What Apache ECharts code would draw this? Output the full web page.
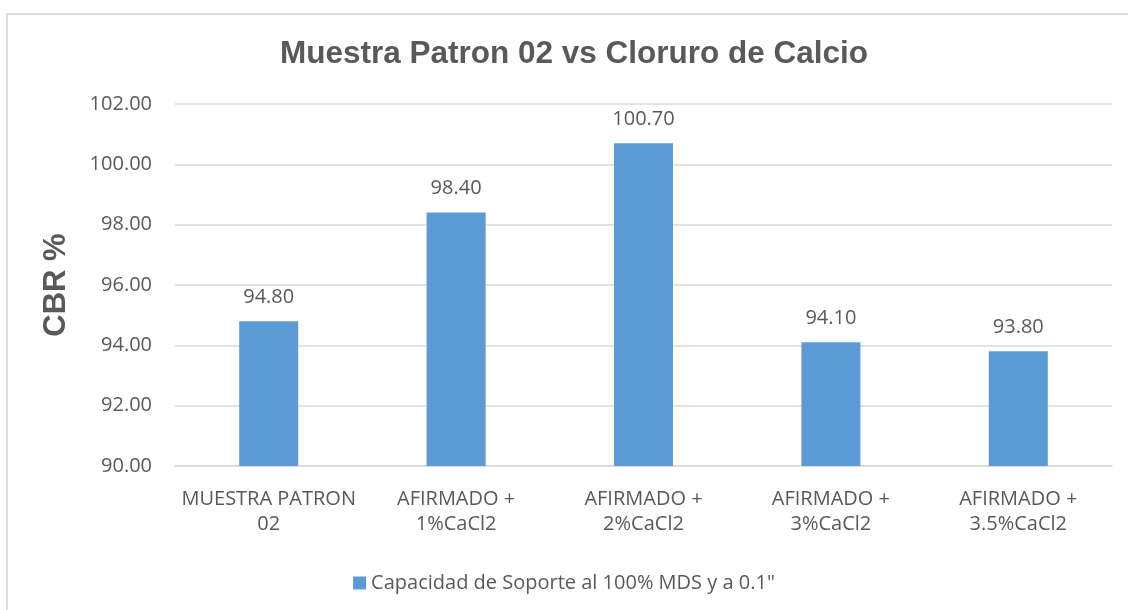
<!DOCTYPE html>
<html>
<head>
<meta charset="utf-8">
<script src="https://cdn.jsdelivr.net/npm/echarts@6/dist/echarts.min.js"></script>
<style>
html,body{margin:0;padding:0;background:#fff;}
#chart{width:1128px;height:610px;}
</style>
</head>
<body>
<div id="chart"></div>
<script>
const titleText = 'Muestra Patron 02 vs Cloruro de Calcio';
const yAxisTitle = 'CBR %';
const seriesName = 'Capacidad de Soporte al 100% MDS y a 0.1"';
const categories = ['MUESTRA PATRON 02', 'AFIRMADO + 1%CaCl2', 'AFIRMADO + 2%CaCl2', 'AFIRMADO + 3%CaCl2', 'AFIRMADO + 3.5%CaCl2'];
const values = [94.80, 98.40, 100.70, 94.10, 93.80];
const yMin = 90, yMax = 102, yStep = 2;

const textColor = '#595959';
const font = 'Open Sans';

const chart = echarts.init(document.getElementById('chart'), null, {renderer: 'canvas'});
chart.setOption({
  backgroundColor: '#ffffff',
  animation: false,
  title: {
    text: titleText,
    left: 574,
    textAlign: 'center',
    top: 38,
    padding: 0,
    textStyle: {fontFamily: 'Liberation Sans', fontWeight: 'bold', fontSize: 31.5, color: textColor}
  },
  graphic: [
    {type: 'rect', silent: true, shape: {x: 7, y: 14, width: 1300, height: 800},
     style: {fill: 'none', stroke: '#dcdcdc', lineWidth: 2}},
    {type: 'text', x: 56, y: 285, rotation: Math.PI / 2,
     style: {text: yAxisTitle, fontFamily: 'Liberation Sans', fontWeight: 'bold', fontSize: 31, 
             fill: textColor, align: 'center', verticalAlign: 'middle'}}
  ],
  legend: {
    data: [seriesName],
    left: 'center',
    top: 568,
    icon: 'rect',
    itemWidth: 13,
    itemHeight: 13,
    itemGap: 6,
    textStyle: {fontFamily: font, fontSize: 20, color: textColor}
  },
  grid: {left: 175, right: 16, top: 104, bottom: 144, containLabel: false},
  xAxis: {
    type: 'category',
    data: categories,
    axisLine: {show: true, lineStyle: {color: '#d9d9d9', width: 1.5}},
    axisTick: {show: false},
    axisLabel: {
      interval: 0,
      margin: 21,
      fontFamily: font, fontSize: 20, color: textColor, lineHeight: 25,
      formatter: function (v) {
        const i = v.lastIndexOf(' ');
        return i > 0 ? v.slice(0, i) + '\n' + v.slice(i + 1) : v;
      }
    }
  },
  yAxis: {
    type: 'value',
    min: yMin, max: yMax, interval: yStep,
    axisLine: {show: false},
    axisTick: {show: false},
    splitLine: {lineStyle: {color: '#d9d9d9', width: 1.5}},
    axisLabel: {
      margin: 23,
      fontFamily: font, fontSize: 20, color: textColor,
      formatter: function (v) { return v.toFixed(2); }
    }
  },
  series: [{
    name: seriesName,
    type: 'bar',
    data: values,
    barWidth: 59,
    itemStyle: {color: '#5b9bd5'},
    label: {
      show: true,
      position: 'top',
      distance: 14,
      fontFamily: font, fontSize: 20, color: textColor,
      formatter: function (p) { return p.value.toFixed(2); }
    }
  }]
});
</script>
</body>
</html>
